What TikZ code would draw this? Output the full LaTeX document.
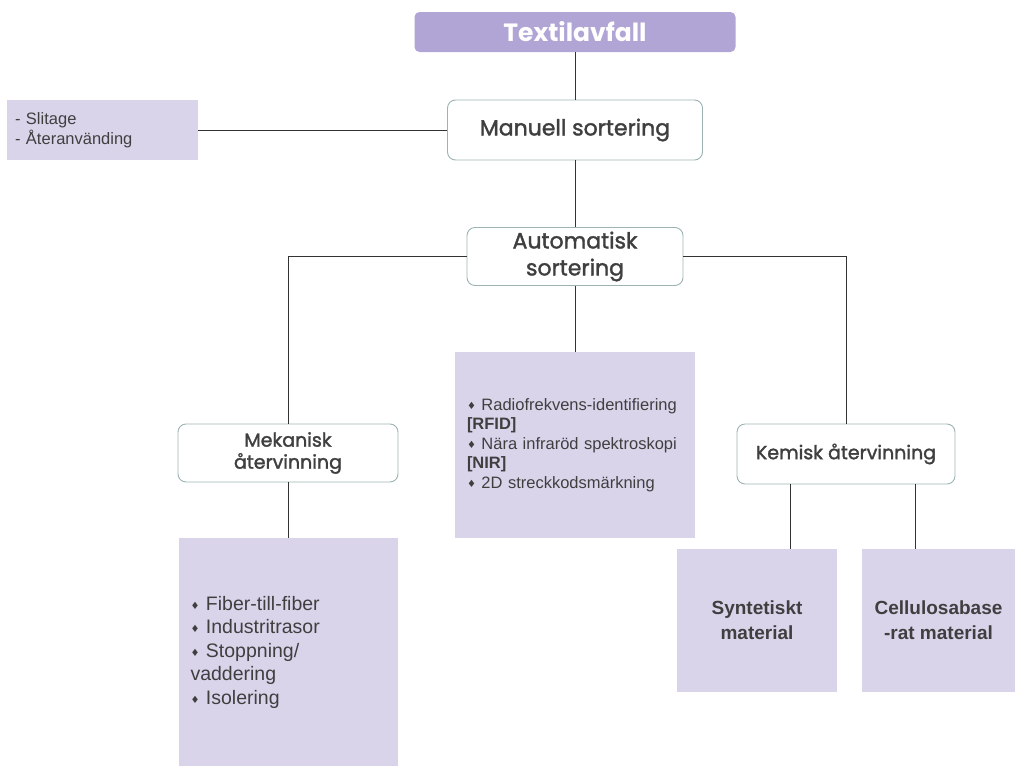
\documentclass[tikz,border=0pt]{standalone}
\usepackage{fontspec}
\setmainfont{Liberation Sans}
\newfontfamily\headf[RawFeature={embolden=1.6}]{Poppins}
\newfontfamily\topf{Poppins}
\newfontfamily\symf{DejaVu Sans}
\usepackage{xcolor}
\usepackage{tikz}
\definecolor{lav}{HTML}{DAD4EB}
\definecolor{lavdark}{HTML}{B1A5D5}
\definecolor{rim}{HTML}{9DB3B3}
\definecolor{ink}{HTML}{3F3F3F}
\definecolor{wire}{HTML}{333333}
\newcommand{\dia}{{\symf\fontsize{10}{10}\selectfont\raisebox{0.15ex}{♦}}}
\tikzset{
  px/.style={x=1pt, y=-1pt},
  t round/.style={draw=rim, fill=white, rounded corners=8pt, line width=0.9pt, align=center, text=ink, inner sep=0pt, font=\headf\fontsize{22}{27}\selectfont},
  t small/.style={t round, font=\headf\fontsize{19}{22}\selectfont},
  t top/.style={fill=lavdark, rounded corners=5pt, text=white, inner sep=0pt, font=\topf\bfseries\fontsize{25}{28}\selectfont},
  t lav/.style={fill=lav, text=ink, inner sep=0pt},
  t list/.style={t lav, align=left, inner xsep=12pt},
  t mat/.style={t lav, align=center, font=\bfseries\fontsize{19}{25}\selectfont},
  t wire/.style={draw=wire, line width=1pt},
}
\begin{document}
\begin{tikzpicture}[px]
\useasboundingbox (0,0) rectangle (1015,766);
\node[t top, minimum width=321, minimum height=40] (waste) at (575,32) {Textilavfall};
\node[t round, minimum width=255, minimum height=60] (manual) at (575,130) {Manuell sortering};
\node[t list, inner xsep=8pt, text width=175, minimum height=60, font=\fontsize{16.5}{20}\selectfont] (wear) at (102.5,130) {- Slitage\\- Återanvänding};
\node[t round, minimum width=216, minimum height=58] (auto) at (575,256.5) {Automatisk\\sortering};
\node[t list, text width=216, minimum height=186, font=\fontsize{16.5}{19.5}\selectfont] (tech) at (575,445) {\dia\ Radiofrekvens-identifiering\\\textbf{[RFID]}\\\dia\ Nära infraröd spektroskopi\\\textbf{[NIR]}\\\dia\ 2D streckkodsmärkning};
\node[t small, minimum width=220, minimum height=58] (mech) at (288,453) {Mekanisk\\återvinning};
\node[t list, text width=195, minimum height=228, font=\fontsize{19.5}{23.5}\selectfont] (mechuse) at (288,652) {\dia\ Fiber-till-fiber\\\dia\ Industritrasor\\\dia\ Stoppning/\\vaddering\\\dia\ Isolering};
\node[t small, minimum width=218, minimum height=60] (chem) at (846,454) {Kemisk återvinning};
\node[t mat, minimum width=160, minimum height=143] (synth) at (757,620.5) {Syntetiskt\\material};
\node[t mat, minimum width=153, minimum height=143] (cell) at (938.5,620.5) {Cellulosabase\\-rat material};
\draw[t wire] (waste) -- (manual);
\draw[t wire] (wear) -- (manual);
\draw[t wire] (manual) -- (auto);
\draw[t wire] (auto) -- (tech);
\draw[t wire] (auto.west) -| (mech.north);
\draw[t wire] (auto.east) -| (chem.north);
\draw[t wire] (mech) -- (mechuse);
\draw[t wire] ([xshift=-56pt]chem.south) -- ([xshift=-56pt]chem.south |- synth.north);
\draw[t wire] ([xshift=69pt]chem.south) -- ([xshift=69pt]chem.south |- cell.north);
\end{tikzpicture}
\end{document}
